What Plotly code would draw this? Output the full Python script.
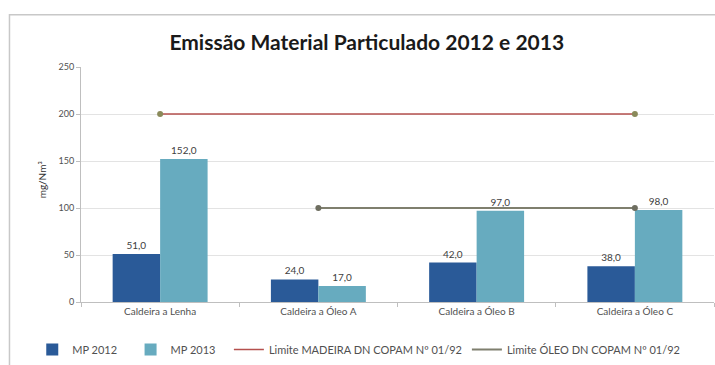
import plotly.graph_objects as go

categories = ["Caldeira a Lenha", "Caldeira a Óleo A", "Caldeira a Óleo B", "Caldeira a Óleo C"]
mp_2012 = [51.0, 24.0, 42.0, 38.0]
mp_2013 = [152.0, 17.0, 97.0, 98.0]
limite_madeira = [200, 200, 200, 200]
limite_oleo = [None, 100, 100, 100]
y_ticks = [0, 50, 100, 150, 200, 250]

NBSP = "\u00a0"


def fmt(v):
    return f"{v:.1f}".replace(".", ",")


font_main = "Lato, 'Open Sans', sans-serif"
label_color = "#404040"

fig = go.Figure()

fig.add_trace(go.Bar(
    name="MP 2012" + NBSP * 3, x=categories, y=mp_2012,
    marker=dict(color="#2a5a98", line=dict(width=0)),
    text=[fmt(v) for v in mp_2012], textposition="outside",
    textfont=dict(size=10, color=label_color), cliponaxis=False,
))
fig.add_trace(go.Bar(
    name="MP 2013" + NBSP * 3, x=categories, y=mp_2013,
    marker=dict(color="#67abbf", line=dict(width=0)),
    text=[fmt(v) for v in mp_2013], textposition="outside",
    textfont=dict(size=10, color=label_color), cliponaxis=False,
))


def endpoints(vals):
    idx = [i for i, v in enumerate(vals) if v is not None]
    keep = (idx[0], idx[-1])
    return [categories[i] for i in keep], [vals[i] for i in keep]


limits = [
    ("Limite MADEIRA DN COPAM Nº 01/92", limite_madeira, "#b5504e", 1.5, "#8a8a5a"),
    ("Limite ÓLEO DN COPAM Nº 01/92", limite_oleo, "#7f7f6e", 2, "#6e6e60"),
]
for name, vals, color, width, mcolor in limits:
    fig.add_trace(go.Scatter(
        name=name, x=categories, y=vals, mode="lines",
        line=dict(color=color, width=width),
    ))
    ex, ey = endpoints(vals)
    fig.add_trace(go.Scatter(
        x=ex, y=ey, mode="markers", showlegend=False, hoverinfo="skip",
        marker=dict(size=6, color=mcolor),
    ))

# outer chart frame
fig.add_shape(type="rect", xref="paper", yref="paper",
              x0=-0.113, x1=1.01, y0=-0.3, y1=1.222,
              line=dict(color="#c8c8c8", width=1.5), fillcolor="rgba(0,0,0,0)", layer="below")

fig.add_annotation(text="mg/Nm³", xref="paper", yref="paper",
                   x=-0.075, y=0.52, textangle=-90, showarrow=False,
                   font=dict(size=10, color="#303030", family=font_main))

fig.update_layout(
    width=715, height=365,
    margin=dict(l=81, r=1, t=67, b=60),
    paper_bgcolor="white", plot_bgcolor="white",
    font=dict(family=font_main, color="#505050"),
    title=dict(text="<b>Emissão Material Particulado 2012 e 2013</b>",
               x=0.513, xanchor="center", y=0.882, yanchor="middle",
               font=dict(size=21, color="#1a1a1a", family=font_main)),
    barmode="group", bargap=0.4, bargroupgap=0,
    showlegend=True,
    legend=dict(orientation="h", x=-0.077, xanchor="left", y=-0.14, yanchor="top",
                font=dict(size=11, color="#505050"), itemwidth=30,
                traceorder="normal"),
    xaxis=dict(showline=True, linecolor="#bfbfbf", ticks="outside", tickson="boundaries",
               ticklen=4, tickcolor="#bfbfbf", tickfont=dict(size=10, color="#505050"),
               showgrid=False),
    yaxis=dict(range=[0, 250], tickvals=y_ticks, showline=True, linecolor="#bfbfbf",
               ticks="outside", ticklen=4, tickcolor="#bfbfbf",
               gridcolor="#e3e3e3", zeroline=False,
               tickfont=dict(size=9, color="#505050")),
)

fig.write_html("out.html")
